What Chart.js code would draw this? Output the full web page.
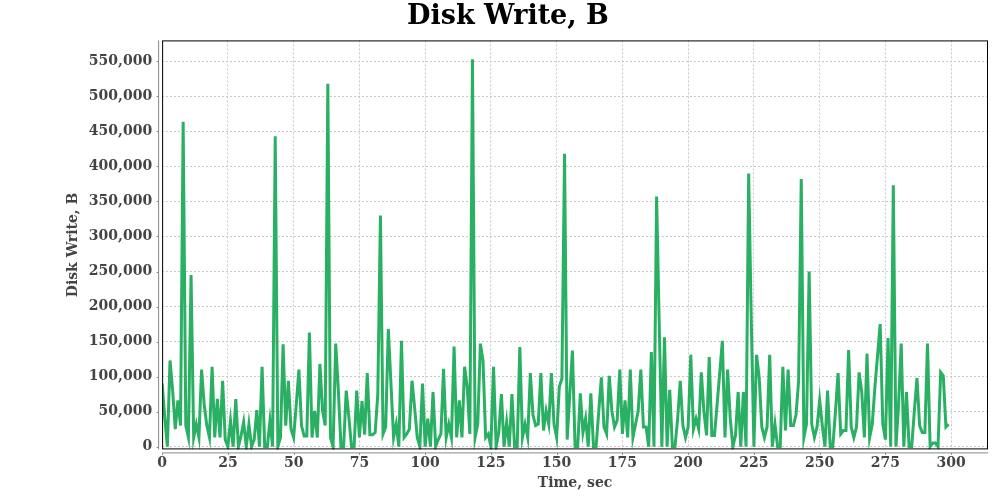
<!DOCTYPE html>
<html>
<head>
<meta charset="utf-8">
<title>Disk Write, B</title>
<script src="https://cdn.jsdelivr.net/npm/chart.js@4/dist/chart.umd.min.js"></script>
<style>
  html, body { margin: 0; padding: 0; background: #fff; }
  #wrap { width: 1000px; height: 500px; }
</style>
</head>
<body>
<div id="wrap"><canvas id="diskChart" width="1000" height="500"></canvas></div>
<script>
// Disk write per second
const seconds = [];
for (let s = 0; s < 300; s++) seconds.push(s);

const diskWrite = [
  90000, 42000, 0, 123000, 80000, 25000, 66000, 30000, 464000, 30000,
  13000, 245000, 13000, 32000, 13000, 110000, 60000, 30000, 13000, 114000,
  13000, 68000, 13000, 94000, 10000, 0, 37000, 0, 68000, 0,
  15000, 35000, 0, 32000, 0, 10000, 52000, 0, 114000, 0,
  0, 37000, 0, 443000, 0, 13000, 146000, 30000, 94000, 25000,
  13000, 60000, 110000, 30000, 15000, 15000, 163000, 13000, 51000, 13000,
  118000, 51000, 30000, 518000, 13000, 0, 147000, 80000, 0, 0,
  80000, 42000, 0, 0, 80000, 13000, 65000, 17000, 105000, 17000,
  17000, 20000, 75000, 330000, 18000, 28000, 168000, 90000, 13000, 32000,
  0, 151000, 13000, 18000, 25000, 94000, 56000, 13000, 0, 90000,
  0, 40000, 0, 78000, 0, 10000, 18000, 111000, 13000, 32000,
  13000, 143000, 13000, 66000, 13000, 114000, 85000, 18000, 553000, 13000,
  32000, 147000, 123000, 13000, 18000, 0, 114000, 0, 20000, 75000,
  0, 35000, 0, 75000, 0, 0, 142000, 13000, 32000, 13000,
  105000, 45000, 30000, 32000, 105000, 23000, 51000, 32000, 105000, 32000,
  13000, 85000, 97000, 418000, 10000, 75000, 137000, 0, 0, 76000,
  20000, 40000, 0, 76000, 0, 0, 50000, 99000, 28000, 18000,
  101000, 51000, 28000, 37000, 110000, 18000, 66000, 13000, 110000, 13000,
  32000, 51000, 110000, 28000, 28000, 0, 135000, 0, 357000, 175000,
  0, 156000, 0, 81000, 0, 0, 40000, 94000, 30000, 13000,
  28000, 131000, 25000, 40000, 25000, 106000, 50000, 16000, 128000, 16000,
  16000, 60000, 105000, 151000, 13000, 110000, 40000, 0, 16000, 78000,
  0, 78000, 0, 390000, 180000, 0, 131000, 99000, 28000, 13000,
  28000, 131000, 0, 32000, 0, 0, 114000, 23000, 110000, 30000,
  30000, 45000, 94000, 382000, 13000, 32000, 250000, 32000, 13000, 28000,
  66000, 30000, 0, 80000, 0, 0, 50000, 105000, 18000, 23000,
  23000, 138000, 28000, 13000, 28000, 106000, 78000, 13000, 133000, 13000,
  32000, 85000, 130000, 175000, 32000, 10000, 155000, 0, 373000, 0,
  60000, 147000, 0, 78000, 0, 0, 51000, 98000, 30000, 20000,
  20000, 147000, 0, 5000, 5000, 0, 106000, 101000, 28000, 32000
];

const xTicks = [0, 25, 50, 75, 100, 125, 150, 175, 200, 225, 250, 275, 300];
const yTicks = [0, 50000, 100000, 150000, 200000, 250000, 300000,
                350000, 400000, 450000, 500000, 550000];
const xRange = [0, 314];
const yRange = [-4000, 580000];

const serif = '"DejaVu Serif", "Liberation Serif", serif';
const textColor = '#444444';

// Plot frame plus offset axis lines, like the original
const framePlugin = {
  id: 'frame',
  afterDraw(chart) {
    const { ctx, chartArea: a, scales } = chart;
    ctx.save();
    ctx.strokeStyle = '#000';
    ctx.lineWidth = 1;
    ctx.strokeRect(a.left + 0.5, a.top + 0.5, a.right - a.left - 1, a.bottom - a.top - 1);

    ctx.strokeStyle = '#888';
    ctx.beginPath();
    // y axis
    const ax = a.left - 3.5;
    ctx.moveTo(ax, a.top);
    ctx.lineTo(ax, a.bottom);
    scales.y.ticks.forEach(t => {
      const py = Math.round(scales.y.getPixelForValue(t.value)) + 0.5;
      ctx.moveTo(ax, py);
      ctx.lineTo(ax - 2, py);
    });
    // x axis
    const ay = a.bottom + 3.5;
    ctx.moveTo(a.left, ay);
    ctx.lineTo(a.right, ay);
    scales.x.ticks.forEach(t => {
      const px = Math.round(scales.x.getPixelForValue(t.value)) + 0.5;
      ctx.moveTo(px, ay);
      ctx.lineTo(px, ay + 2);
    });
    ctx.stroke();
    ctx.restore();
  }
};

const ctx = document.getElementById('diskChart');
new Chart(ctx, {
  type: 'line',
  data: {
    labels: seconds,
    datasets: [{
      label: 'Disk Write, B',
      data: seconds.map((s, i) => ({ x: s, y: diskWrite[i] })),
      borderColor: '#29b063',
      borderWidth: 3,
      pointRadius: 0,
      tension: 0,
      fill: false
    }]
  },
  options: {
    responsive: false,
    animation: false,
    layout: { padding: { top: 0, right: 12, bottom: 8, left: 28 } },
    plugins: {
      legend: { display: false },
      tooltip: { enabled: false },
      title: {
        display: true,
        text: 'Disk Write, B',
        color: '#000',
        font: { family: serif, size: 27, weight: 'bold' },
        padding: { top: 1, bottom: 7 }
      }
    },
    scales: {
      x: {
        type: 'linear',
        min: xRange[0],
        max: xRange[1],
        afterBuildTicks: scale => { scale.ticks = xTicks.map(v => ({ value: v })); },
        ticks: {
          color: textColor,
          font: { family: serif, size: 14, weight: 'bold' },
          padding: 6,
          maxRotation: 0,
          autoSkip: false
        },
        grid: { color: '#c8c8c8', drawTicks: false },
        border: { display: false, dash: [2, 2] },
        title: {
          display: true,
          text: 'Time, sec',
          color: textColor,
          font: { family: serif, size: 14, weight: 'bold' },
          padding: { top: -3, bottom: 0 }
        }
      },
      y: {
        type: 'linear',
        min: yRange[0],
        max: yRange[1],
        afterBuildTicks: scale => { scale.ticks = yTicks.map(v => ({ value: v })); },
        ticks: {
          color: textColor,
          font: { family: serif, size: 14, weight: 'bold' },
          padding: 10,
          autoSkip: false
        },
        grid: { color: '#c8c8c8', drawTicks: false },
        border: { display: false, dash: [2, 2] },
        title: {
          display: true,
          text: 'Disk Write, B',
          color: textColor,
          font: { family: serif, size: 14, weight: 'bold' },
          padding: { top: 37, bottom: -3 }
        }
      }
    }
  },
  plugins: [framePlugin]
});
</script>
</body>
</html>
